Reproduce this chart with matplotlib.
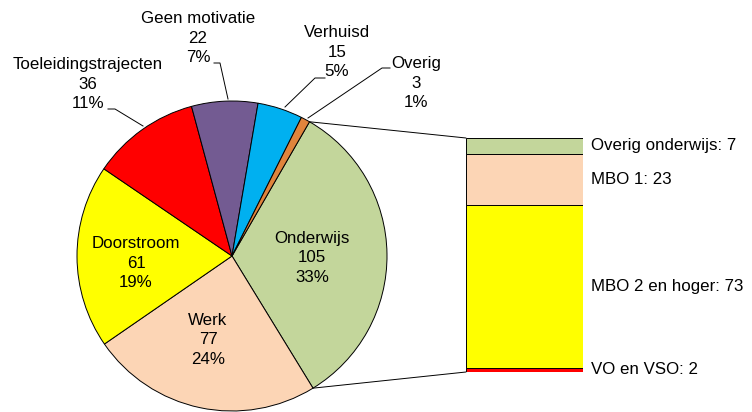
import matplotlib.pyplot as plt
from matplotlib.patches import ConnectionPatch
import numpy as np

plt.rcParams['font.family'] = ['Liberation Sans', 'DejaVu Sans']
plt.rcParams['font.size'] = 12.2

# pie data (clockwise from Onderwijs)
labels = ['Onderwijs', 'Werk', 'Doorstroom', 'Toeleidingstrajecten',
          'Geen motivatie', 'Verhuisd', 'Overig']
counts = [105, 77, 61, 36, 22, 15, 3]
pie_colors = ['#C3D69B', '#FCD5B5', '#FFFF00', '#FF0000',
              '#735B92', '#00B0F0', '#E0843C']

# breakdown of Onderwijs (bottom to top)
sub_labels = ['VO en VSO', 'MBO 2 en hoger', 'MBO 1', 'Overig onderwijs']
sub_counts = [2, 73, 23, 7]
sub_colors = ['#FF0000', '#FFFF00', '#FCD5B5', '#C3D69B']

W, H = 752, 412
fig = plt.figure(figsize=(W / 100, H / 100), dpi=100)
ax = fig.add_axes([0, 0, 1, 1])
ax.set_aspect('equal')


def Y(py):
    return H - py


cx, cy, R = 232, Y(256), 155
start = 60
total = sum(counts)
wedges, _ = ax.pie(counts, colors=pie_colors, startangle=start, counterclock=False,
                   center=(cx, cy), radius=R, frame=True,
                   wedgeprops=dict(edgecolor='black', linewidth=0.7))
ax.set_xlim(0, W)
ax.set_ylim(0, H)
ax.axis('off')

pct = [round(100 * c / total) for c in counts]
LS = 1.38

# labels inside the pie
inside = {0: (312, 258), 1: (208, 340), 2: (136, 263)}
for i, (px, py) in inside.items():
    ax.text(px, Y(py), f'{labels[i]}\n{counts[i]}\n{pct[i]}%',
            ha='center', va='center', linespacing=LS)

# labels outside with leader lines
outside = {
    3: ((88, 84), [(143, 126), (115, 109), (108, 109)]),
    4: ((198, 38), [(228, 99), (220, 63), (214, 63)]),
    5: ((337, 52), [(285, 107), (315, 78), (325, 78)]),
    6: ((416, 83), [(308, 118), (382, 68), (390, 68)]),
}
for i, ((px, py), pts) in outside.items():
    ax.text(px, Y(py), f'{labels[i]}\n{counts[i]}\n{pct[i]}%',
            ha='center', va='center', linespacing=LS)
    xs = [p[0] for p in pts]
    ys = [Y(p[1]) for p in pts]
    ax.plot(xs, ys, color='black', linewidth=0.7)

# stacked bar for Onderwijs
bx0, bx1, by0, by1 = 466, 583, 372, 138
ax2 = fig.add_axes([bx0 / W, Y(by0) / H, (bx1 - bx0) / W, (by0 - by1) / H])
bottom = 0
for lab, c, col in zip(sub_labels, sub_counts, sub_colors):
    ax2.bar(0, c, bottom=bottom, width=1, color=col, edgecolor='black', linewidth=0.7)
    ax2.text(0.57, bottom + c / 2, f'{lab}: {c}', ha='left', va='center', clip_on=False)
    bottom += c
ax2.set_xlim(-0.5, 0.5)
ax2.set_ylim(0, sum(sub_counts))
ax2.axis('off')

# connection lines from pie to bar
a_top = np.deg2rad(start)
a_bot = np.deg2rad(start - 360 * counts[0] / total)
for ang, yb in [(a_top, sum(sub_counts)), (a_bot, 0)]:
    p = (cx + R * np.cos(ang), cy + R * np.sin(ang))
    con = ConnectionPatch(xyA=p, coordsA=ax.transData, xyB=(-0.5, yb), coordsB=ax2.transData,
                          color='black', linewidth=0.7)
    fig.add_artist(con)

fig.savefig('out.png', dpi=100)
